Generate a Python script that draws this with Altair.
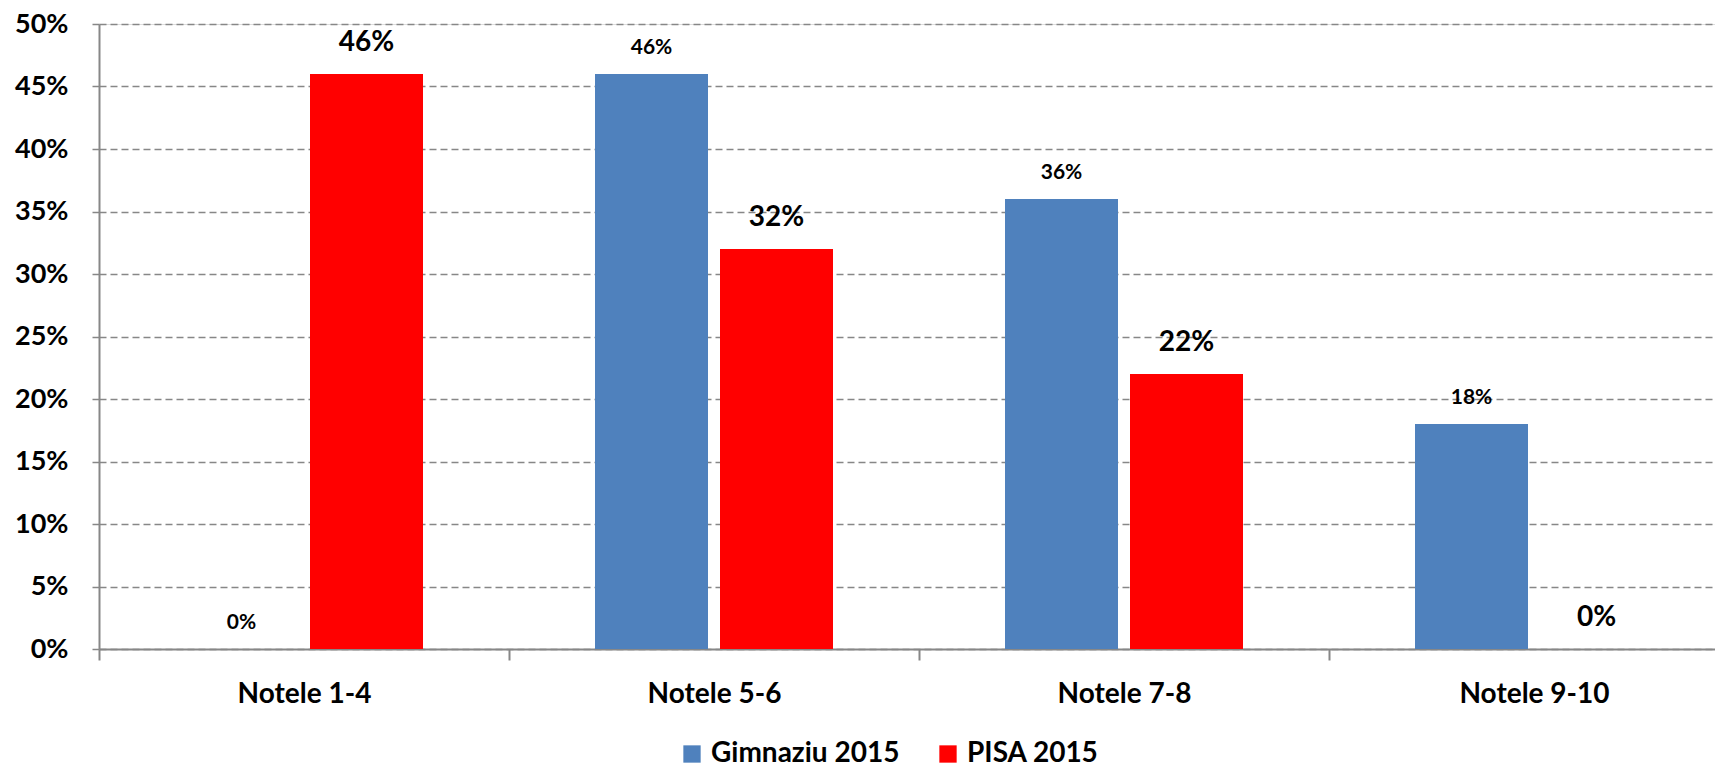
import altair as alt
import pandas as pd

categories = ["Notele 1-4", "Notele 5-6", "Notele 7-8", "Notele 9-10"]
series = ["Gimnaziu 2015", "PISA 2015"]
gimnaziu = [0.0, 0.46, 0.36, 0.18]
pisa = [0.46, 0.32, 0.22, 0.0]
y_ticks = [0, 0.05, 0.10, 0.15, 0.20, 0.25, 0.30, 0.35, 0.40, 0.45, 0.50]
colors = ["#4F81BD", "#FF0000"]

rows = []
for c, g, p in zip(categories, gimnaziu, pisa):
    rows.append({"cat": c, "series": series[0], "value": g})
    rows.append({"cat": c, "series": series[1], "value": p})
df = pd.DataFrame(rows)

FONT = "Lato"
GRID = "#878787"

x = alt.X(
    "cat:N", sort=categories, title=None,
    scale=alt.Scale(paddingInner=0, paddingOuter=0, range=[0, 1640]),
    axis=alt.Axis(labelAngle=0, tickBand="extent", labelFont=FONT, labelFontSize=28,
                  labelFontWeight="bold", labelColor="black", labelPadding=20,
                  tickSize=11, tickColor=GRID, tickWidth=2, domainColor=GRID,
                  domainWidth=2, grid=False),
)
xo = alt.XOffset("series:N", sort=series,
                 scale=alt.Scale(paddingInner=0.096, paddingOuter=0.688))
y = alt.Y(
    "value:Q", title=None, scale=alt.Scale(domain=[0, 0.5], nice=False),
    axis=alt.Axis(values=y_ticks, format=".0%", labelFont=FONT, labelFontSize=27,
                  labelFontWeight="bold", labelColor="black", labelPadding=20,
                  tickSize=11, tickColor=GRID, tickWidth=1.5, tickDash=[7, 4],
                  domainColor=GRID, domainWidth=2,
                  grid=True, gridColor=GRID, gridWidth=1.5, gridDash=[7, 4]),
)

base = alt.Chart(df)

bars = base.mark_bar().encode(
    x=x, xOffset=xo, y=y,
    color=alt.Color("series:N", sort=series,
                    scale=alt.Scale(domain=series, range=colors),
                    legend=alt.Legend(orient="none", legendX=579, legendY=716,
                                      direction="horizontal", title=None,
                                      symbolType="square", symbolSize=300,
                                      symbolStrokeWidth=0, labelFont=FONT,
                                      labelFontSize=28, labelFontWeight="bold",
                                      labelColor="black", columnPadding=34,
                                      labelOffset=5, labelLimit=400)),
)

txt_g = base.transform_filter(alt.datum.series == series[0]).mark_text(
    dy=-26, fontSize=21, font=FONT, fontWeight="bold", baseline="middle", color="black"
).encode(x=x, xOffset=xo, y=y, text=alt.Text("value:Q", format=".0%"))

txt_p = base.transform_filter(alt.datum.series == series[1]).mark_text(
    dy=-31, fontSize=28, font=FONT, fontWeight="bold", baseline="middle", color="black"
).encode(x=x, xOffset=xo, y=y, text=alt.Text("value:Q", format=".0%"))

chart = alt.layer(bars, txt_g, txt_p).properties(
    width=1616, height=625,
    autosize=alt.AutoSizeParams(type="none"),
    padding={"left": 91, "top": 16, "right": 0, "bottom": 125},
).configure_view(stroke=None).configure(background="white")

chart.save("out.html", embed_options={"renderer": "svg", "actions": False})
